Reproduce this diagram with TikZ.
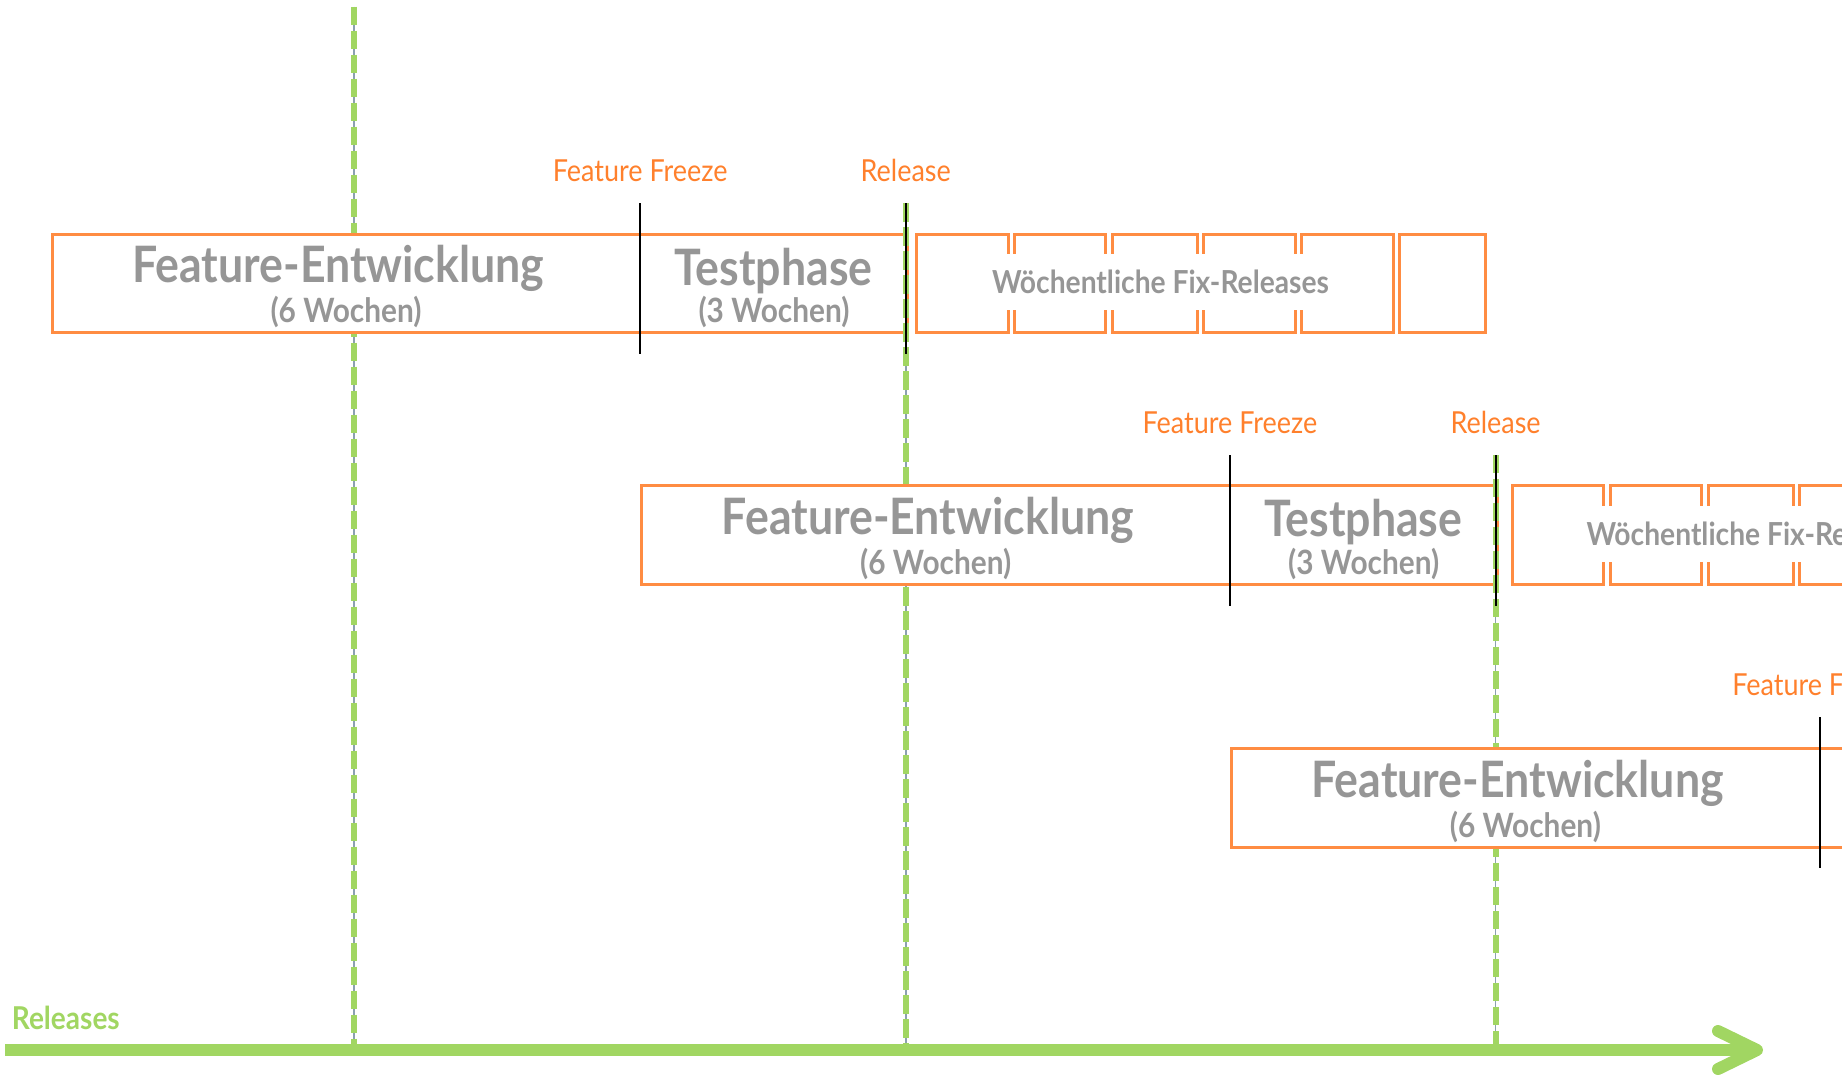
\documentclass[tikz,border=0pt]{standalone}
\usepackage{fontspec}
\setmainfont{Lato}[FakeStretch=0.89]
\definecolor{orng}{RGB}{255,140,66}
\definecolor{lorng}{RGB}{255,128,44}
\definecolor{gtxt}{RGB}{150,150,150}
\definecolor{grn}{RGB}{161,214,98}
\definecolor{dgray}{RGB}{140,160,176}
\tikzset{
  grnline/.style={draw=grn, line width=6pt, dash pattern=on 18.3pt off 5.7pt},
  grayline/.style={draw=dgray, line width=1.6pt},
  phasebox/.style={draw=orng, line width=3pt, fill=white, inner sep=0pt, anchor=north west, minimum height=98.7pt},
  fixbox/.style={draw=orng, line width=3pt, fill=white, inner sep=0pt, anchor=north west, minimum height=98.7pt},
  blk/.style={draw=black, line width=2pt},
  lab/.style={text=lorng, font=\fontsize{30.3}{36}\selectfont, anchor=base, inner sep=0pt},
  bigtxt/.style={text=gtxt, font=\bfseries\fontsize{50.2}{60}\selectfont, anchor=base, inner sep=0pt},
  subtxt/.style={text=gtxt, font=\bfseries\fontsize{33.5}{40}\selectfont, anchor=base, inner sep=0pt},
  fixtxt/.style={text=gtxt, font=\bfseries\fontsize{31.7}{38}\selectfont, fill=white, inner xsep=6pt, inner ysep=0pt, minimum height=55.7pt},
  axisline/.style={draw=grn, line width=12pt},
  axistip/.style={draw=grn, line width=12pt, line cap=round, line join=round},
  axlab/.style={text=grn, font=\bfseries\fontsize{31.5}{38}\selectfont, anchor=base west, inner sep=0pt},
}
\begin{document}
\begin{tikzpicture}[x=1pt, y=-1pt]
\path[use as bounding box] (0,0) rectangle (1842,1074);
\clip (0,0) rectangle (1842,1074);

% coordinates of release guide lines
\coordinate (g1t) at (353.7,6.7);   \coordinate (g1b) at (353.7,1044);
\coordinate (g2t) at (905.7,203.3); \coordinate (g2b) at (905.7,1044);
\coordinate (g3t) at (1495.6,455);  \coordinate (g3b) at (1495.6,1044);
\coordinate (g2m) at (905.7,354);   \coordinate (g3m) at (1495.6,605.7);

% green dashed release lines
\foreach \a/\b in {g1t/g1b, g2t/g2b, g3t/g3b}{
  \draw[grayline] (\a) -- (\b);
  \draw[grnline] (\a) -- (\b);
}

% phase boxes
\node[phasebox, minimum width=855.2pt] (b1) at (50.5,232.6) {};
\node[phasebox, minimum width=855.4pt] (b2) at (640.2,484.3) {};
\node[phasebox, minimum width=800pt] (b3) at (1229.9,747.3) {};

% weekly fix-release boxes, row 1
\node[fixbox, minimum width=91.7pt] (f11) at (914.8,232.6) {};
\node[fixbox, minimum width=91.7pt] (f12) at (1012.5,232.6) {};
\node[fixbox, minimum width=85.8pt] (f13) at (1110.5,232.6) {};
\node[fixbox, minimum width=92.1pt] (f14) at (1202.3,232.6) {};
\node[fixbox, minimum width=92.1pt] (f15) at (1299.9,232.6) {};
\node[fixbox, minimum width=86.2pt] (f16) at (1398,232.6) {};
\node[fixtxt] (fx1) at (1160.5,282.3) {Wöchentliche Fix-Releases};

% weekly fix-release boxes, row 2
\node[fixbox, minimum width=91pt] (f21) at (1511,484.3) {};
\node[fixbox, minimum width=91pt] (f22) at (1609,484.3) {};
\node[fixbox, minimum width=85pt] (f23) at (1707,484.3) {};
\node[fixbox, minimum width=92pt] (f24) at (1798,484.3) {};
\node[fixtxt] (fx2) at (1755,534.3) {Wöchentliche Fix-Releases};

% green dashes over the release edges
\draw[grnline] (g2t) -- (g2m);
\draw[grnline] (g3t) -- (g3m);

% texts in phase boxes
\node[bigtxt] (fe1) at (338.3,282.7) {Feature-Entwicklung};
\node[subtxt] (fw1) at (346,322.3) {(6 Wochen)};
\node[bigtxt] (tp1) at (773.5,285) {Testphase};
\node[subtxt] (tw1) at (774,322.3) {(3 Wochen)};

\node[bigtxt] (fe2) at (928,534.4) {Feature-Entwicklung};
\node[subtxt] (fw2) at (935.7,574) {(6 Wochen)};
\node[bigtxt] (tp2) at (1363.2,536.7) {Testphase};
\node[subtxt] (tw2) at (1363.7,574) {(3 Wochen)};

\node[bigtxt] (fe3) at (1517.7,797.4) {Feature-Entwicklung};
\node[subtxt] (fw3) at (1525.4,837) {(6 Wochen)};

% black milestone lines
\coordinate (ff1t) at (640.2,203.3);  \coordinate (ff1b) at (640.2,354);
\coordinate (r1t) at (905.7,203.3);   \coordinate (r1b) at (905.7,354);
\coordinate (ff2t) at (1229.9,455);   \coordinate (ff2b) at (1229.9,605.7);
\coordinate (r2t) at (1495.6,455);    \coordinate (r2b) at (1495.6,605.7);
\coordinate (ff3t) at (1819.6,717.3); \coordinate (ff3b) at (1819.6,868.3);
\foreach \a/\b in {ff1t/ff1b, r1t/r1b, ff2t/ff2b, r2t/r2b, ff3t/ff3b}{
  \draw[blk] (\a) -- (\b);
}

% milestone labels
\node[lab] (lff1) at (640.2,181.7) {Feature Freeze};
\node[lab] (lr1) at (905.7,181.7) {Release};
\node[lab] (lff2) at (1229.9,433) {Feature Freeze};
\node[lab] (lr2) at (1495.6,433) {Release};
\node[lab] (lff3) at (1819.6,695) {Feature Freeze};

% releases axis
\coordinate (ax0) at (5,1050);
\coordinate (ax1) at (1757,1050);
\draw[axisline] (ax0) -- (ax1);
\draw[axistip] (ax1) ++(-39,-19) -- (ax1) -- ++(-39,19);
\node[axlab] (rel) at (11.7,1029.3) {Releases};
\end{tikzpicture}
\end{document}
